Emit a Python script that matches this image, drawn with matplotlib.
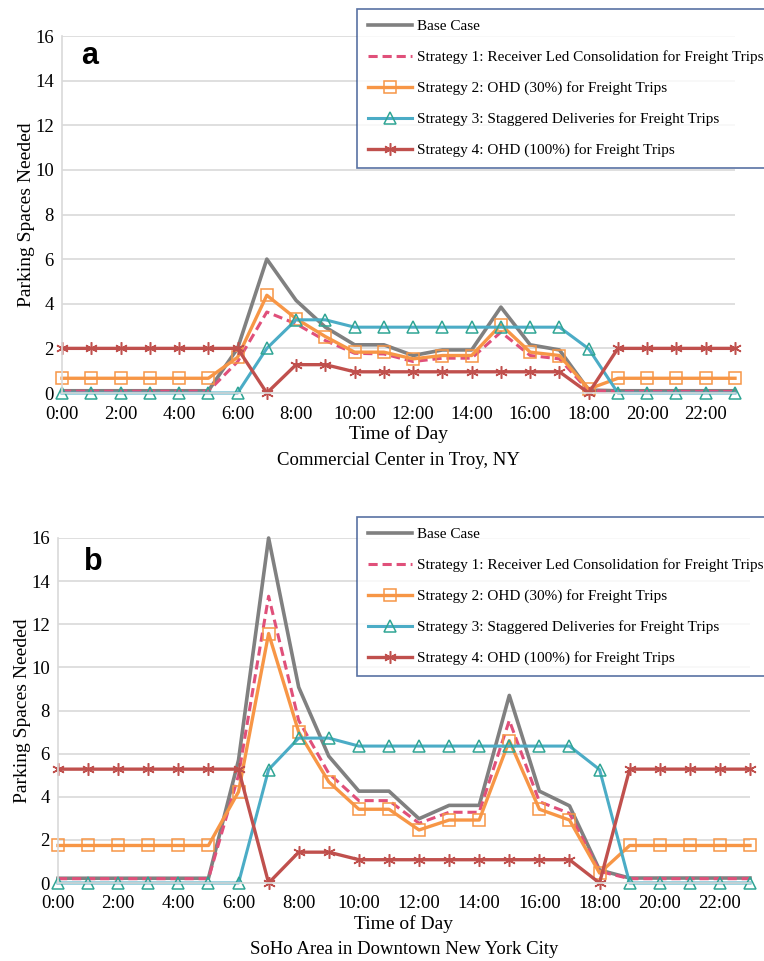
import matplotlib
matplotlib.use("Agg")
from matplotlib import pyplot as plt

HOURS = list(range(24))
TICK_HOURS = list(range(0, 24, 2))
TICK_LABELS = ["%d:00" % h for h in TICK_HOURS]

SERIES_NAMES = [
    "Base Case",
    "Strategy 1: Receiver Led Consolidation for Freight Trips",
    "Strategy 2: OHD (30%) for Freight Trips",
    "Strategy 3: Staggered Deliveries for Freight Trips",
    "Strategy 4: OHD (100%) for Freight Trips",
]

# Panel a: Commercial Center in Troy, NY
troy_base = [0.1, 0.1, 0.1, 0.1, 0.1, 0.1, 2.0, 6.0, 4.15, 2.95, 2.16, 2.16,
             1.68, 1.93, 1.93, 3.85, 2.16, 1.93, 0.13, 0.1, 0.1, 0.1, 0.1, 0.1]
troy_s1 = [0.08, 0.08, 0.08, 0.08, 0.08, 0.08, 1.4, 3.63, 3.1, 2.35, 1.78, 1.75,
           1.41, 1.56, 1.56, 2.73, 1.68, 1.53, 0.1, 0.07, 0.07, 0.07, 0.07, 0.07]
troy_s2 = [0.66, 0.66, 0.66, 0.66, 0.66, 0.66, 1.6, 4.38, 3.33, 2.53, 1.83, 1.83,
           1.53, 1.68, 1.68, 3.06, 1.83, 1.68, 0.18, 0.66, 0.66, 0.66, 0.66, 0.66]
troy_s3 = [0, 0, 0, 0, 0, 0, 0, 2.0, 3.28, 3.28, 2.95, 2.95,
           2.95, 2.95, 2.95, 2.95, 2.95, 2.95, 1.98, 0, 0, 0, 0, 0]
troy_s4 = [2.0, 2.0, 2.0, 2.0, 2.0, 2.0, 2.0, 0, 1.27, 1.27, 0.95, 0.95,
           0.95, 0.95, 0.95, 0.95, 0.95, 0.95, 0, 2.0, 2.0, 2.0, 2.0, 2.0]

# Panel b: SoHo Area in Downtown New York City
soho_base = [0.22, 0.22, 0.22, 0.22, 0.22, 0.22, 5.7, 16.0, 9.08, 5.88, 4.26, 4.26,
             2.98, 3.6, 3.6, 8.7, 4.26, 3.58, 0.6, 0.23, 0.23, 0.23, 0.23, 0.23]
soho_s1 = [0.2, 0.2, 0.2, 0.2, 0.2, 0.2, 5.0, 13.3, 7.54, 5.08, 3.82, 3.82,
           2.77, 3.28, 3.28, 7.54, 3.77, 3.23, 0.54, 0.2, 0.2, 0.2, 0.2, 0.2]
soho_s2 = [1.74, 1.74, 1.74, 1.74, 1.74, 1.74, 4.23, 11.57, 7.0, 4.69, 3.42, 3.42,
           2.46, 2.92, 2.92, 6.6, 3.42, 2.92, 0.46, 1.74, 1.74, 1.74, 1.74, 1.74]
soho_s3 = [0, 0, 0, 0, 0, 0, 0, 5.26, 6.72, 6.72, 6.35, 6.35,
           6.35, 6.35, 6.35, 6.35, 6.35, 6.35, 5.26, 0, 0, 0, 0, 0]
soho_s4 = [5.28, 5.28, 5.28, 5.28, 5.28, 5.28, 5.28, 0, 1.43, 1.43, 1.08, 1.08,
           1.08, 1.08, 1.08, 1.08, 1.08, 1.08, 0, 5.28, 5.28, 5.28, 5.28, 5.28]

SERIF = "Liberation Serif"
STYLES = [
    dict(color="#808080", lw=2.6),
    dict(color="#e0507a", lw=2.2, ls=(0, (3, 1.6))),
    dict(color="#f79646", lw=2.4, marker="s", ms=9, mfc="none", mec="#f79646", mew=1.1),
    dict(color="#4bacc6", lw=2.2, marker="^", ms=8, mfc="none", mec="#2fa594", mew=1.1),
    dict(color="#c0504d", lw=2.4, marker=(6, 2, 0), ms=9, mec="#c0504d", mew=1.1),
]

W, H = 764, 961


def draw_panel(fig, box, series, letter, letter_xy, subtitle, legend_top):
    # box = (left, right, top, bottom) of the plot area, in pixels
    left, right, top, bottom = box
    pw, ph = right - left, bottom - top
    ax = fig.add_axes([left / W, 1 - bottom / H, pw / W, ph / H])
    handles = []
    for ys, style in zip(series, STYLES):
        line, = ax.plot(HOURS, ys, clip_on=False, **style)
        handles.append(line)
    ax.set_xlim(0, 23)
    ax.set_ylim(0, 16)
    ax.set_yticks(range(0, 17, 2))
    ax.set_xticks(TICK_HOURS)
    ax.set_xticklabels(TICK_LABELS)
    ax.grid(axis="y", color="#d9d9d9", lw=1.2)
    ax.set_axisbelow(True)
    for side in ("top", "right"):
        ax.spines[side].set_visible(False)
    for side in ("left", "bottom"):
        ax.spines[side].set_color("#d9d9d9")
        ax.spines[side].set_linewidth(1.2)
    ax.tick_params(axis="x", length=0, pad=9, labelsize=13.5)
    ax.tick_params(axis="y", length=0, pad=6, labelsize=13.5)
    for lab in ax.get_xticklabels() + ax.get_yticklabels():
        lab.set_fontfamily(SERIF)
    ax.set_ylabel("Parking Spaces Needed", fontfamily=SERIF, fontsize=14)
    ax.yaxis.set_label_coords(-27 / pw, 0.5)
    ax.set_xlabel("Time of Day", fontfamily=SERIF, fontsize=14, labelpad=2)
    ax.text(0.5, -67 / ph, subtitle, transform=ax.transAxes,
            ha="center", va="center", fontfamily=SERIF, fontsize=13.5)
    ax.text((letter_xy[0] - left) / pw, 1 - (letter_xy[1] - top) / ph, letter,
            transform=ax.transAxes, ha="left", va="center",
            fontfamily="Liberation Sans", fontweight="bold", fontsize=22)
    leg = fig.legend(handles, SERIES_NAMES, loc="upper left",
                     bbox_to_anchor=(357 / W, 1 - legend_top / H), frameon=True,
                     fancybox=False, prop={"family": SERIF, "size": 11},
                     handlelength=2.9, handletextpad=0.3, labelspacing=1.12,
                     borderpad=0.7, borderaxespad=0)
    leg.get_frame().set_edgecolor("#2f4e8c")
    leg.get_frame().set_linewidth(1.2)
    return ax


fig = plt.figure(figsize=(W / 100, H / 100), dpi=100)
draw_panel(fig, (62, 735, 36, 393),
           [troy_base, troy_s1, troy_s2, troy_s3, troy_s4],
           "a", (81, 56), "Commercial Center in Troy, NY", 9)
draw_panel(fig, (58, 750, 538, 883),
           [soho_base, soho_s1, soho_s2, soho_s3, soho_s4],
           "b", (84, 562), "SoHo Area in Downtown New York City", 517)
fig.savefig("out.png", dpi=100)
